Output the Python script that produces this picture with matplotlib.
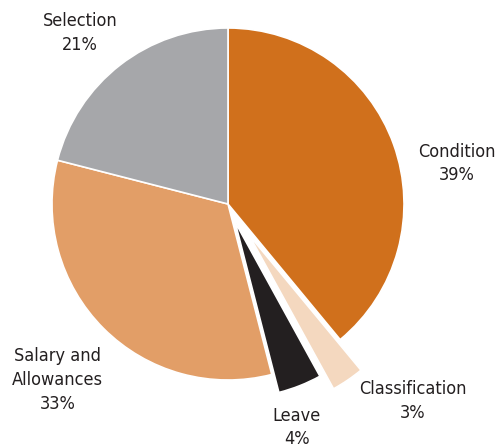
import matplotlib.pyplot as plt

labels = ["Condition", "Classification", "Leave", "Salary and\nAllowances", "Selection"]
shares = [39, 3, 4, 33, 21]
colors = ["#D0701C", "#F4D8BF", "#231F20", "#E29E67", "#A6A7AA"]
explode = [0, 0.21, 0.11, 0, 0]

# label anchor points in axis units (pie radius = 1)
label_pos = [(1.30, 0.23), (1.05, -1.12), (0.39, -1.27), (-0.97, -1.0), (-0.84, 0.97)]

plt.rcParams['font.family'] = ['DejaVu Sans']

fig = plt.figure(figsize=(5.04, 4.47), dpi=100)
ax = fig.add_axes([0, 0, 1, 1])

ax.pie(shares, colors=colors, explode=explode, startangle=90, counterclock=False,
       radius=1, wedgeprops=dict(edgecolor="white", linewidth=1.2))

for lab, val, (x, y) in zip(labels, shares, label_pos):
    ax.text(x, y, f"{lab}\n{val}%", ha="center", va="center", fontsize=13,
            fontstretch="condensed", color="#231F20", linespacing=1.4)

# centre at (228, 204) px, radius 176 px
r = 176.0
ax.set_xlim(-228 / r, (504 - 228) / r)
ax.set_ylim(-(447 - 204) / r, 204 / r)
ax.set_aspect("auto")
ax.axis("off")

fig.savefig("out.png", dpi=100)
